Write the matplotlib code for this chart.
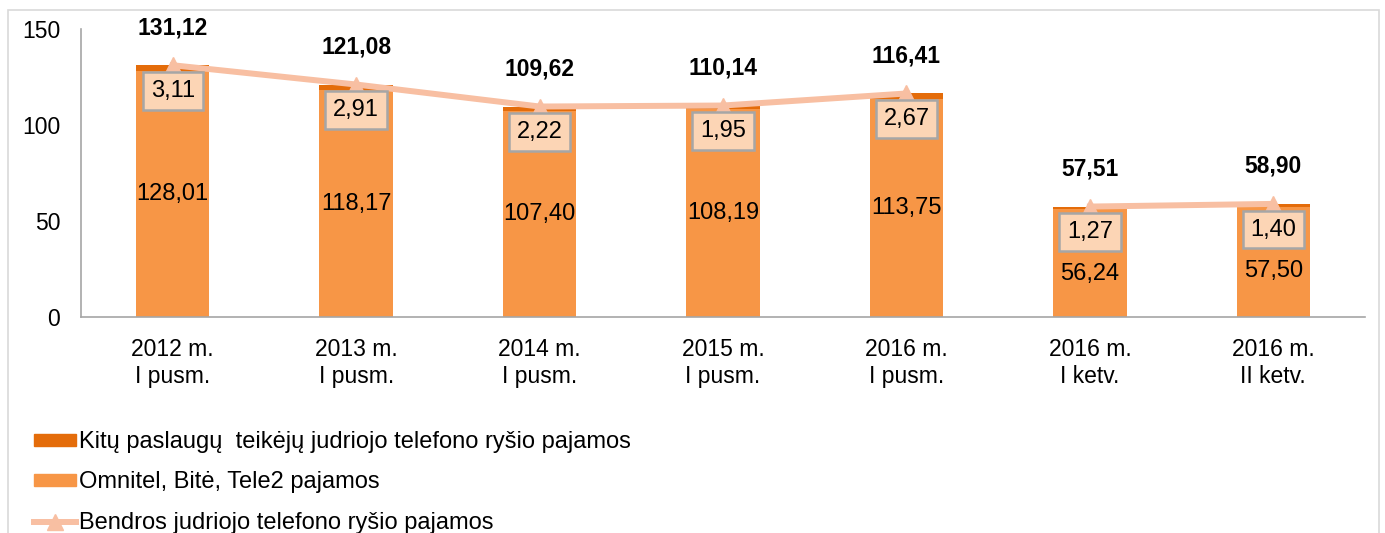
import matplotlib.pyplot as plt
from matplotlib.lines import Line2D
from matplotlib.patches import Patch, Rectangle

plt.rcParams['font.family'] = ['Liberation Sans', 'DejaVu Sans']

# data
categories = ["2012 m.\nI pusm.", "2013 m.\nI pusm.", "2014 m.\nI pusm.",
              "2015 m.\nI pusm.", "2016 m.\nI pusm.", "2016 m.\nI ketv.",
              "2016 m.\nII ketv."]
main_ops = [128.01, 118.17, 107.40, 108.19, 113.75, 56.24, 57.50]
others = [3.11, 2.91, 2.22, 1.95, 2.67, 1.27, 1.40]
totals = [131.12, 121.08, 109.62, 110.14, 116.41, 57.51, 58.90]
half_year_n = 5  # line is broken between half-year and quarter data

C_MAIN = "#F79646"
C_OTHER = "#E46C0A"
C_LINE = "#F8BFA2"
FS = 17


def fmt(v):
    return f"{v:.2f}".replace(".", ",")


fig = plt.figure(figsize=(13.85, 5.33), dpi=100)
ax = fig.add_axes([0.0585, 0.4053, 0.9271, 0.5403])

x = list(range(len(categories)))
ax.bar(x, main_ops, width=0.4, color=C_MAIN, zorder=2)
ax.bar(x, others, width=0.4, bottom=main_ops, color=C_OTHER, zorder=2)

line_kw = dict(color=C_LINE, lw=4.3, marker="^", ms=11.5, zorder=3)
ax.plot(x[:half_year_n], totals[:half_year_n], **line_kw)
ax.plot(x[half_year_n:], totals[half_year_n:], **line_kw)

for i in x:
    # keep the inner label clear of the small box under the line
    ax.text(i, min(main_ops[i] / 2, totals[i] - 35), fmt(main_ops[i]),
            ha="center", va="center", fontsize=FS, zorder=4)
    ax.annotate(fmt(others[i]), (i, totals[i]), xytext=(0, -18.5),
                textcoords="offset points", ha="center", va="center",
                fontsize=FS, zorder=5,
                bbox=dict(boxstyle="square,pad=0.33", fc="#FCD5B5",
                          ec="#A6A6A6", lw=1.8))
    ax.annotate(fmt(totals[i]), (i, totals[i]), xytext=(0, 27),
                textcoords="offset points", ha="center", va="center",
                fontsize=16.5, fontweight="bold", zorder=5)

ax.set_xlim(-0.5, 6.5)
ax.set_ylim(0, 150)
ax.set_yticks([0, 50, 100, 150])
ax.set_xticks(x)
ax.set_xticklabels(categories, fontsize=16.5, linespacing=1.22)
ax.tick_params(axis="both", length=0, labelsize=16.5)
ax.tick_params(axis="x", pad=15)
ax.tick_params(axis="y", pad=15)
for s in ["top", "right"]:
    ax.spines[s].set_visible(False)
for s in ["left", "bottom"]:
    ax.spines[s].set_color("#A6A6A6")
    ax.spines[s].set_linewidth(1.2)

handles = [
    Patch(color=C_OTHER),
    Patch(color=C_MAIN),
    Line2D([], [], color=C_LINE, lw=4.3, marker="^", ms=11.5),
]
labels = ["Kitų paslaugų  teikėjų judriojo telefono ryšio pajamos",
          "Omnitel, Bitė, Tele2 pajamos",
          "Bendros judriojo telefono ryšio pajamos"]
fig.legend(handles, labels, loc="upper left", bbox_to_anchor=(0.018, 0.209),
           frameon=False, fontsize=17, handlelength=1.78,
           handleheight=0.42, handletextpad=0.13, labelspacing=0.78,
           borderaxespad=0)

# light outer frame of the chart area
fig.add_artist(Rectangle((0.006, -0.05), 0.99, 1.031,
                         transform=fig.transFigure, fill=False,
                         ec="#D9D9D9", lw=1.2))

fig.savefig("out.png", dpi=100)
